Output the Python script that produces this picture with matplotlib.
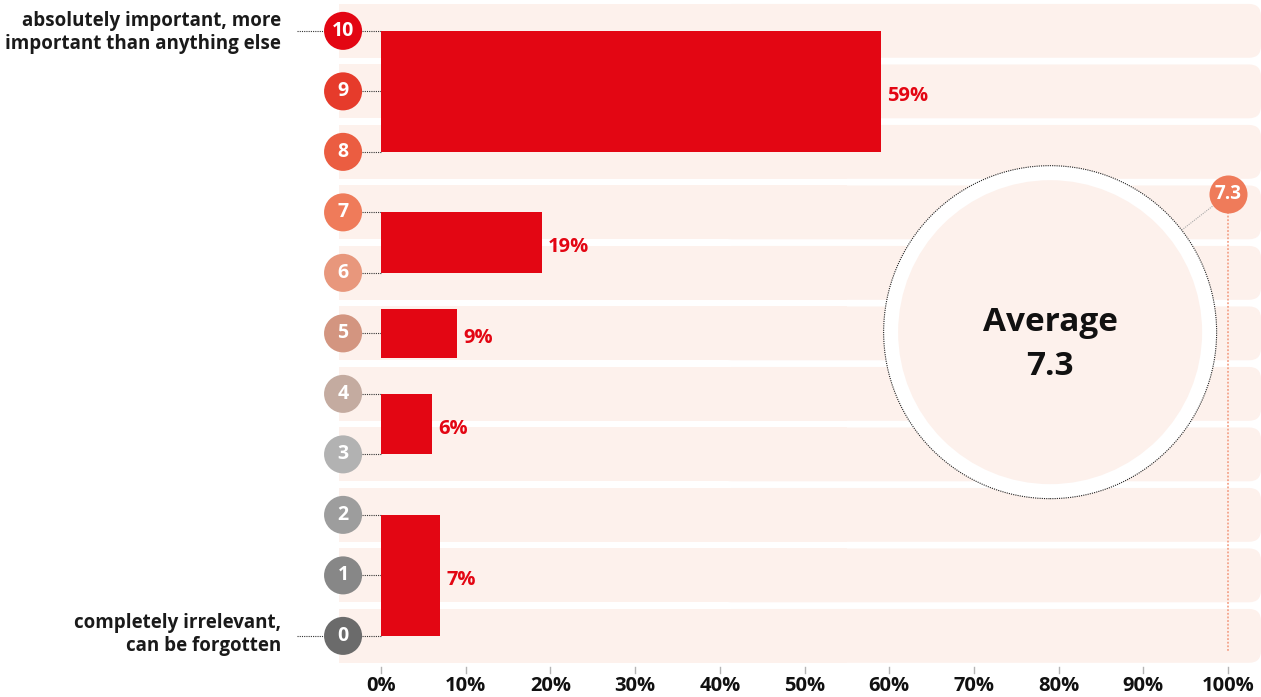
import matplotlib.pyplot as plt
from matplotlib.patches import FancyBboxPatch, Rectangle, Ellipse
import numpy as np

plt.rcParams['font.family'] = ['Open Sans', 'DejaVu Sans']

# answer scale 0..10 and the colour of each score badge
scores = list(range(11))
score_colors = ['#6b6b6b', '#878787', '#9d9d9d', '#b2b2b2', '#c4aba0', '#d39580',
                '#e8977c', '#ef7b5a', '#eb5d41', '#e63b2b', '#e30613']

# grouped shares (percent of respondents)
group_low = [0, 3, 5, 6, 8]
group_high = [2, 4, 5, 7, 10]
shares = [7, 6, 9, 19, 59]
average = 7.3

ticks = list(range(0, 101, 10))
tick_labels = [f'{t}%' for t in ticks]
top_label = 'absolutely important, more\nimportant than anything else'
bottom_label = 'completely irrelevant,\ncan be forgotten'

RED = '#e30613'
BAND = '#fdf1ec'

W, H = 1261, 697
fig = plt.figure(figsize=(W / 100, H / 100), dpi=100)
ax = fig.add_axes([0, 0, 1, 1])
x0, x1 = -45.0, 103.9
y0, y1 = -1.01, 10.51
ax.set_xlim(x0, x1)
ax.set_ylim(y0, y1)
ax.axis('off')
sx = W / (x1 - x0)   # pixels per percent
sy = H / (y1 - y0)   # pixels per score row

# background bands, square on the left and rounded on the right
band_left, band_h = -4.96, 0.89
for r in scores:
    ax.add_patch(Rectangle((band_left, r - band_h / 2), 60, band_h,
                           facecolor=BAND, edgecolor='none', zorder=0))
    ax.add_patch(FancyBboxPatch((40, r - band_h / 2), x1 - 40, band_h,
                                boxstyle=f'round,pad=0,rounding_size={12 / sx}',
                                mutation_aspect=sx / sy,
                                facecolor=BAND, edgecolor='none', zorder=0))

# dotted connectors from badges to the bars
badge_x = -4.49
for r in scores:
    ax.plot([badge_x + 2.2, 0], [r, r], ls=(0, (1, 1)), color='#333333', lw=0.8, zorder=1)
for r in (scores[0], scores[-1]):
    ax.plot([-9.9, badge_x - 2.2], [r, r], ls=(0, (1, 1)), color='#333333', lw=0.8, zorder=1)

# score badges
ax.scatter([badge_x] * len(scores), scores, s=750, c=score_colors, zorder=3, linewidths=0)
for r in scores:
    ax.text(badge_x, r, str(r), color='white', fontsize=14, fontweight='bold',
            ha='center', va='center', zorder=4)

ax.text(-11.8, scores[-1] - 0.03, top_label, ha='right', va='center', fontsize=13.5,
        fontweight='bold', color='#1a1a1a', linespacing=1.2)
ax.text(-11.8, scores[0] + 0.03, bottom_label, ha='right', va='center', fontsize=13.5,
        fontweight='bold', color='#1a1a1a', linespacing=1.2)

# bars spanning the scores of each group
for lo, hi, v in zip(group_low, group_high, shares):
    pad = 0.4 if lo == hi else 0.0
    bottom, top = lo - pad, hi + pad
    mid = (bottom + top) / 2
    ax.barh(mid, v, height=top - bottom, left=0, color=RED, zorder=2)
    ax.text(v + 0.7, mid - 0.08, f'{v}%', color=RED, fontsize=14.5, fontweight='bold',
            ha='left', va='center', zorder=4)

# x axis
for t, lab in zip(ticks, tick_labels):
    ax.plot([t, t], [-0.51, -0.62], color='#b5b5b5', lw=1)
    ax.text(t, -0.83, lab, ha='center', va='center', fontsize=14.5, fontweight='bold',
            color='#111111')

# average bubble
cx, cy = 79.0, 5.02
r_out, r_in = 166.5, 152
ax.add_patch(Ellipse((cx, cy), 2 * r_out / sx, 2 * r_out / sy, facecolor='white',
                     edgecolor='#222222', ls=(0, (1, 1)), lw=0.8, zorder=5))
ax.add_patch(Ellipse((cx, cy), 2 * r_in / sx, 2 * r_in / sy, facecolor=BAND,
                     edgecolor='none', zorder=6))
ax.text(cx, cy - 0.2, f'Average\n{average}', ha='center', va='center', fontsize=24,
        fontweight='bold', color='#111111', linespacing=1.42, zorder=7)

# marker of the average on the score scale
ax.plot([100, 100], [average, -0.26], ls=(0, (1, 1)), color='#f4a48b', lw=1.3, zorder=5)
ax.scatter([100], [average], s=750, c=score_colors[7], zorder=8, linewidths=0)
ax.text(100, average, f'{average}', color='white', fontsize=13.5, fontweight='bold',
        ha='center', va='center', zorder=9)

# thin leader from bubble to marker
p0 = np.array([cx * sx, cy * sy])
p1 = np.array([100 * sx, average * sy])
d = p1 - p0
dist = np.hypot(*d)
u = d / dist
a = p0 + u * r_out
b = p0 + u * (dist - 19)
ax.plot([a[0] / sx, b[0] / sx], [a[1] / sy, b[1] / sy], ls=(0, (1, 1)),
        color='#aaaaaa', lw=0.8, zorder=5)

fig.savefig('out.png', dpi=100)
